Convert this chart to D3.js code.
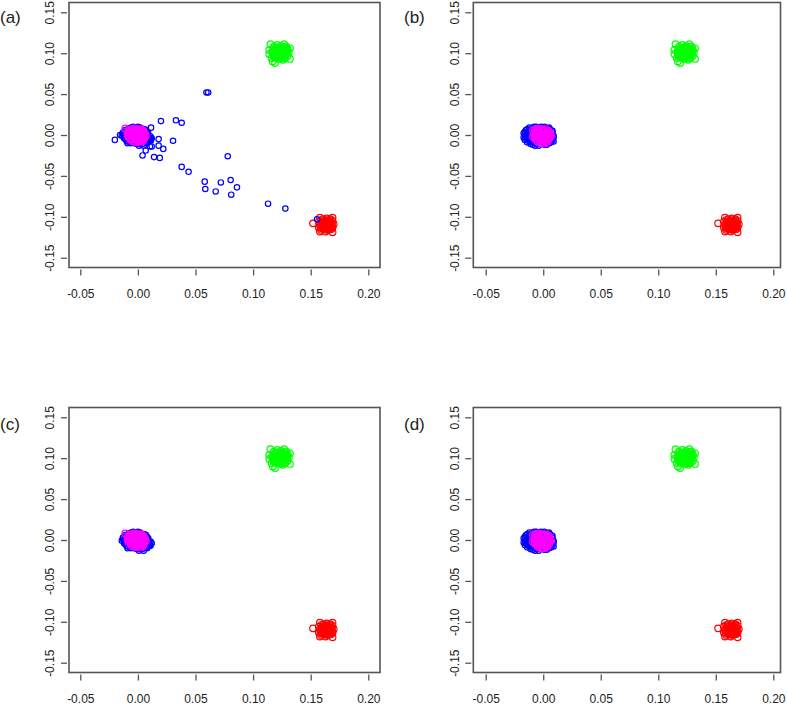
<!DOCTYPE html>
<html>
<head>
<meta charset="utf-8">
<script src="https://cdn.jsdelivr.net/npm/d3@7"></script>
<style>
  body { margin: 0; background: #fff; }
  svg { display: block; font-family: "Liberation Sans", Arial, sans-serif; }
</style>
</head>
<body>
<svg id="chart" width="787" height="704"></svg>
<script>
// tick values / labels
const xTicks = [-0.05, 0.00, 0.05, 0.10, 0.15, 0.20];
const xTickLabels = ["-0.05", "0.00", "0.05", "0.10", "0.15", "0.20"];
const yTicks = [-0.15, -0.10, -0.05, 0.00, 0.05, 0.10, 0.15];
const yTickLabels = ["-0.15", "-0.10", "-0.05", "0.00", "0.05", "0.10", "0.15"];

// green cluster (same in all panels)
const greenPts = [
  [0.115,0.111],[0.118,0.108],[0.121,0.110],[0.124,0.109],[0.127,0.111],[0.129,0.108],[0.132,0.106],
  [0.114,0.104],[0.117,0.103],[0.120,0.105],[0.123,0.104],[0.126,0.105],[0.129,0.103],[0.131,0.101],
  [0.114,0.099],[0.117,0.100],[0.119,0.097],[0.122,0.100],[0.125,0.099],[0.128,0.098],[0.130,0.097],
  [0.116,0.094],[0.118,0.096],[0.121,0.095],[0.124,0.096],[0.127,0.095],[0.132,0.093],
  [0.117,0.090],[0.119,0.088],[0.122,0.093],[0.126,0.092],[0.128,0.094],[0.120,0.101],[0.125,0.102],[0.123,0.107],
  [0.118,0.106],[0.1205,0.1065],[0.123,0.106],[0.1255,0.1065],[0.128,0.106],[0.130,0.105],
  [0.119,0.1035],[0.1215,0.103],[0.124,0.1025],[0.1265,0.103],[0.1285,0.1005],[0.1165,0.1015],
  [0.118,0.0985],[0.1205,0.099],[0.123,0.0985],[0.1255,0.097],[0.127,0.1005],[0.1295,0.0995],
  [0.1195,0.0945],[0.122,0.0965],[0.1245,0.0935],[0.1265,0.0975],[0.1225,0.102],[0.1275,0.108]
];

// red cluster (same in all panels)
const redPts = [
  [0.152,-0.108],[0.158,-0.101],[0.161,-0.103],[0.164,-0.102],[0.167,-0.103],[0.169,-0.101],
  [0.157,-0.106],[0.160,-0.106],[0.163,-0.105],[0.166,-0.106],[0.169,-0.105],
  [0.158,-0.110],[0.161,-0.109],[0.164,-0.109],[0.167,-0.110],[0.170,-0.109],
  [0.157,-0.113],[0.160,-0.112],[0.163,-0.113],[0.166,-0.112],[0.169,-0.113],
  [0.159,-0.116],[0.162,-0.115],[0.165,-0.116],[0.168,-0.115],[0.158,-0.118],[0.163,-0.118],[0.169,-0.119],
  [0.166,-0.107],[0.161,-0.111],
  [0.159,-0.104],[0.1615,-0.1055],[0.164,-0.1045],[0.1665,-0.104],[0.168,-0.1075],
  [0.1595,-0.108],[0.162,-0.107],[0.1645,-0.1065],[0.1665,-0.1085],[0.1685,-0.111],
  [0.159,-0.1115],[0.1615,-0.113],[0.1635,-0.111],[0.1655,-0.1135],[0.1675,-0.1125],
  [0.1605,-0.1145],[0.163,-0.1155],[0.1665,-0.1145],[0.1585,-0.1135],[0.165,-0.1105]
];

// blue core, panels (a) and (c)
const blueCoreAC = [
  [-0.014,-0.001],[-0.013,0.003],[-0.012,-0.004],[-0.011,0.006],[-0.010,-0.007],[-0.010,0.001],
  [-0.008,0.008],[-0.008,-0.003],[-0.007,-0.009],[-0.006,0.004],[-0.005,-0.006],[-0.004,0.010],
  [-0.004,0.000],[-0.003,-0.010],[-0.002,0.006],[-0.001,-0.004],[0.000,0.010],[0.000,-0.011],
  [0.001,0.002],[0.002,-0.008],[0.003,0.008],[0.003,-0.003],[0.004,-0.011],[0.005,0.004],
  [0.006,-0.007],[0.007,0.006],[0.007,-0.002],[0.008,-0.010],[0.009,0.002],[0.010,-0.005],
  [0.011,-0.002],[0.011,-0.007],[-0.012,0.000],[0.005,-0.013],[-0.009,-0.010],[0.009,-0.008],
  [-0.013,0.001],[-0.012,-0.002],[-0.011,0.003],[-0.011,-0.005],[-0.009,0.006],[-0.009,-0.008],
  [-0.006,0.009],[-0.006,-0.010],[-0.002,0.009],[-0.001,-0.011],[0.002,0.009],[0.002,-0.011],
  [0.006,0.007],[0.007,-0.009],[0.009,-0.001],[0.010,-0.003],[0.010,-0.007],[0.008,0.004],
  [0.012,-0.004],[0.001,-0.013]
];

// blue scattered points, panel (a) only
const blueOutA = [
  [0.0595,0.052],[0.061,0.052],[0.020,0.017],[0.033,0.018],[0.038,0.015],[0.0305,-0.007],[0.018,-0.005],
  [0.018,-0.013],[0.022,-0.017],[0.0114,0.009],[0.012,-0.014],[0.0068,-0.019],[0.004,-0.025],[0.014,-0.027],
  [0.019,-0.028],[-0.020,-0.006],[0.038,-0.039],[0.044,-0.045],[0.078,-0.026],[0.058,-0.057],[0.0585,-0.066],
  [0.0675,-0.069],[0.072,-0.058],[0.0805,-0.055],[0.086,-0.064],[0.081,-0.073],[0.113,-0.084],[0.128,-0.090],
  [0.1555,-0.103],[-0.0155,0.000],[0.0114,-0.006],[0.0105,-0.014]
];

// blue core, panels (b) and (d)
const blueCoreBD = [
  [-0.017,0.002],[-0.017,-0.003],[-0.016,-0.006],[-0.015,0.006],[-0.014,-0.009],[-0.013,0.003],
  [-0.013,-0.003],[-0.012,0.009],[-0.011,-0.007],[-0.011,-0.011],[-0.010,0.005],[-0.009,-0.001],
  [-0.008,0.010],[-0.008,-0.009],[-0.007,-0.013],[-0.006,0.003],[-0.005,-0.005],[-0.004,0.009],
  [-0.003,-0.011],[-0.002,0.001],[-0.001,-0.008],[0.000,0.009],[0.001,-0.012],[0.002,0.004],
  [0.003,-0.006],[0.004,0.008],[0.005,-0.010],[0.006,0.000],[0.007,-0.005],[0.008,0.005],
  [0.009,-0.003],[0.009,-0.008],[-0.015,0.000],[-0.006,-0.011],[0.006,0.007],[-0.012,-0.005],
  [-0.016,0.004],[-0.016,-0.001],[-0.015,-0.004],[-0.014,0.007],[-0.013,-0.007],[-0.012,0.006],
  [-0.011,-0.009],[-0.010,0.008],[-0.009,-0.012],[-0.006,0.010],[-0.004,-0.013],[-0.002,0.010],
  [0.001,0.010],[0.003,-0.012],[0.005,0.009],[0.007,-0.009],[0.008,0.003],[0.009,-0.001],
  [0.008,-0.006],[-0.014,-0.002],[-0.012,0.002],[-0.010,-0.004],[-0.009,0.004]
];

// magenta, panels (a) and (c)
const magentaAC = [
  [-0.011,0.008],[-0.008,0.006],[-0.006,0.007],[-0.003,0.008],[0.000,0.007],[0.003,0.007],[0.005,0.005],
  [-0.009,0.003],[-0.007,0.004],[-0.004,0.004],[-0.002,0.005],[0.001,0.004],[0.004,0.003],[0.006,0.002],
  [-0.009,0.000],[-0.006,0.001],[-0.004,0.000],[-0.001,0.001],[0.002,0.001],[0.005,0.000],[0.007,-0.001],
  [-0.008,-0.003],[-0.005,-0.002],[-0.002,-0.002],[0.000,-0.003],[0.003,-0.002],[0.006,-0.003],
  [-0.006,-0.006],[-0.003,-0.005],[0.000,-0.006],[0.002,-0.005],[0.005,-0.006],
  [-0.004,-0.008],[-0.001,-0.009],[0.002,-0.008],[0.004,-0.008],
  [-0.007,-0.001],[0.003,0.005],[-0.002,0.003],[0.001,-0.001],
  [-0.0075,0.0055],[-0.005,0.006],[-0.0015,0.0065],[0.0015,0.006],[0.004,0.0055],
  [-0.008,0.0015],[-0.0055,0.0025],[-0.0025,0.002],[0.0005,0.0025],[0.0035,0.0015],[0.0055,0.0015],
  [-0.0075,-0.0015],[-0.005,-0.0005],[-0.0025,-0.0005],[0.0005,-0.0005],[0.0035,-0.0005],[0.006,-0.0015],
  [-0.0065,-0.0045],[-0.004,-0.0035],[-0.001,-0.0045],[0.0015,-0.0035],[0.004,-0.0045],
  [-0.0025,-0.007],[0.0005,-0.0075],[0.003,-0.0065]
];

// magenta, panels (b) and (d)
const magentaBD = [
  [-0.009,0.006],[-0.007,0.003],[-0.006,0.007],[-0.004,0.008],[-0.001,0.007],[0.002,0.007],[0.005,0.005],
  [-0.008,0.001],[-0.005,0.004],[-0.003,0.003],[0.000,0.004],[0.003,0.003],[0.006,0.002],
  [-0.009,-0.002],[-0.006,-0.001],[-0.003,0.000],[0.000,0.001],[0.003,0.000],[0.006,-0.002],
  [-0.007,-0.005],[-0.004,-0.003],[-0.001,-0.003],[0.002,-0.003],[0.005,-0.005],[0.007,-0.001],
  [-0.005,-0.008],[-0.002,-0.006],[0.001,-0.007],[0.004,-0.008],[-0.002,-0.010],[0.001,-0.010],[0.003,-0.006],
  [-0.0075,0.005],[-0.0045,0.0055],[-0.0015,0.005],[0.0015,0.0055],[0.004,0.0045],
  [-0.0065,0.0015],[-0.004,0.0015],[-0.0015,0.002],[0.0015,0.0015],[0.0045,0.001],
  [-0.0075,-0.0025],[-0.0045,-0.0015],[-0.0015,-0.001],[0.0015,-0.0015],[0.0045,-0.002],
  [-0.0055,-0.0055],[-0.0025,-0.004],[0.0005,-0.005],[0.0035,-0.004],[-0.0035,-0.007],[0.0025,-0.0085]
];

// 面板布局
const panels = [
  { tag: "(a)", tagX: 0,   tagY: 23,  xr: [80.3, 368.3],  yr: [257.7, 12.3],  box: [69, 2.5, 380, 267.5],
    blue: blueCoreAC.concat(blueOutA), magenta: magentaAC },
  { tag: "(b)", tagX: 404, tagY: 23,  xr: [485.7, 773.3], yr: [257.7, 12.3],  box: [473.3, 2.5, 780.5, 267.5],
    blue: blueCoreBD, magenta: magentaBD },
  { tag: "(c)", tagX: 0,   tagY: 430, xr: [80.3, 368.3],  yr: [662.7, 417.3], box: [69, 407.5, 380, 672.5],
    blue: blueCoreAC, magenta: magentaAC },
  { tag: "(d)", tagX: 404, tagY: 430, xr: [485.7, 773.3], yr: [662.7, 417.3], box: [473.3, 407.5, 780.5, 672.5],
    blue: blueCoreBD, magenta: magentaBD }
];

const svg = d3.select("#chart");
const axisColor = "#555";
const textColor = "#222";

function drawPanel(p) {
  const g = svg.append("g");
  const x = d3.scaleLinear().domain([-0.05, 0.20]).range(p.xr);
  const y = d3.scaleLinear().domain([-0.15, 0.15]).range(p.yr);
  const [bx0, by0, bx1, by1] = p.box;

  // 坐标轴 (R style, detached ticks)
  const xAxis = g.append("g")
    .attr("transform", `translate(0,${by1 + 2})`)
    .call(d3.axisBottom(x).tickValues(xTicks).tickSize(6)
      .tickFormat((d, i) => xTickLabels[i]));
  xAxis.select(".domain").remove();
  xAxis.selectAll("line").attr("stroke", axisColor).attr("stroke-width", 1.3);
  xAxis.selectAll("text")
    .attr("y", 28).attr("dy", null)
    .attr("fill", textColor)
    .style("font-size", "12px");

  const yAxis = g.append("g")
    .attr("transform", `translate(${bx0 - 2},0)`)
    .call(d3.axisLeft(y).tickValues(yTicks).tickSize(6)
      .tickFormat((d, i) => yTickLabels[i]));
  yAxis.select(".domain").remove();
  yAxis.selectAll("line").attr("stroke", axisColor).attr("stroke-width", 1.3);
  yAxis.selectAll("text")
    .attr("x", null).attr("dy", null)
    .attr("text-anchor", "middle")
    .attr("transform", "translate(-12.7,0) rotate(-90)")
    .attr("fill", textColor)
    .style("font-size", "12px");

  // 边框
  g.append("rect")
    .attr("x", bx0).attr("y", by0)
    .attr("width", bx1 - bx0).attr("height", by1 - by0)
    .attr("fill", "none")
    .attr("stroke", axisColor)
    .attr("stroke-width", 1.6);

  // 点
  const layers = [
    { pts: redPts, color: "#ff0000", r: 3.3 },
    { pts: greenPts, color: "#00ff00", r: 3.3 },
    { pts: p.blue, color: "#0000ff", r: 2.7 },
    { pts: p.magenta, color: "#ff00ff", r: 3.3 }
  ];
  layers.forEach(l => {
    g.append("g").selectAll("circle")
      .data(l.pts)
      .enter()
      .append("circle")
      .attr("cx", d => x(d[0]))
      .attr("cy", d => y(d[1]))
      .attr("r", l.r)
      .attr("fill", "none")
      .attr("stroke", l.color)
      .attr("stroke-width", 1.2);
  });

  // 面板标签
  g.append("text")
    .attr("x", p.tagX).attr("y", p.tagY)
    .attr("fill", textColor)
    .style("font-size", "17px")
    .text(p.tag);
}

panels.forEach(drawPanel);
</script>
</body>
</html>
